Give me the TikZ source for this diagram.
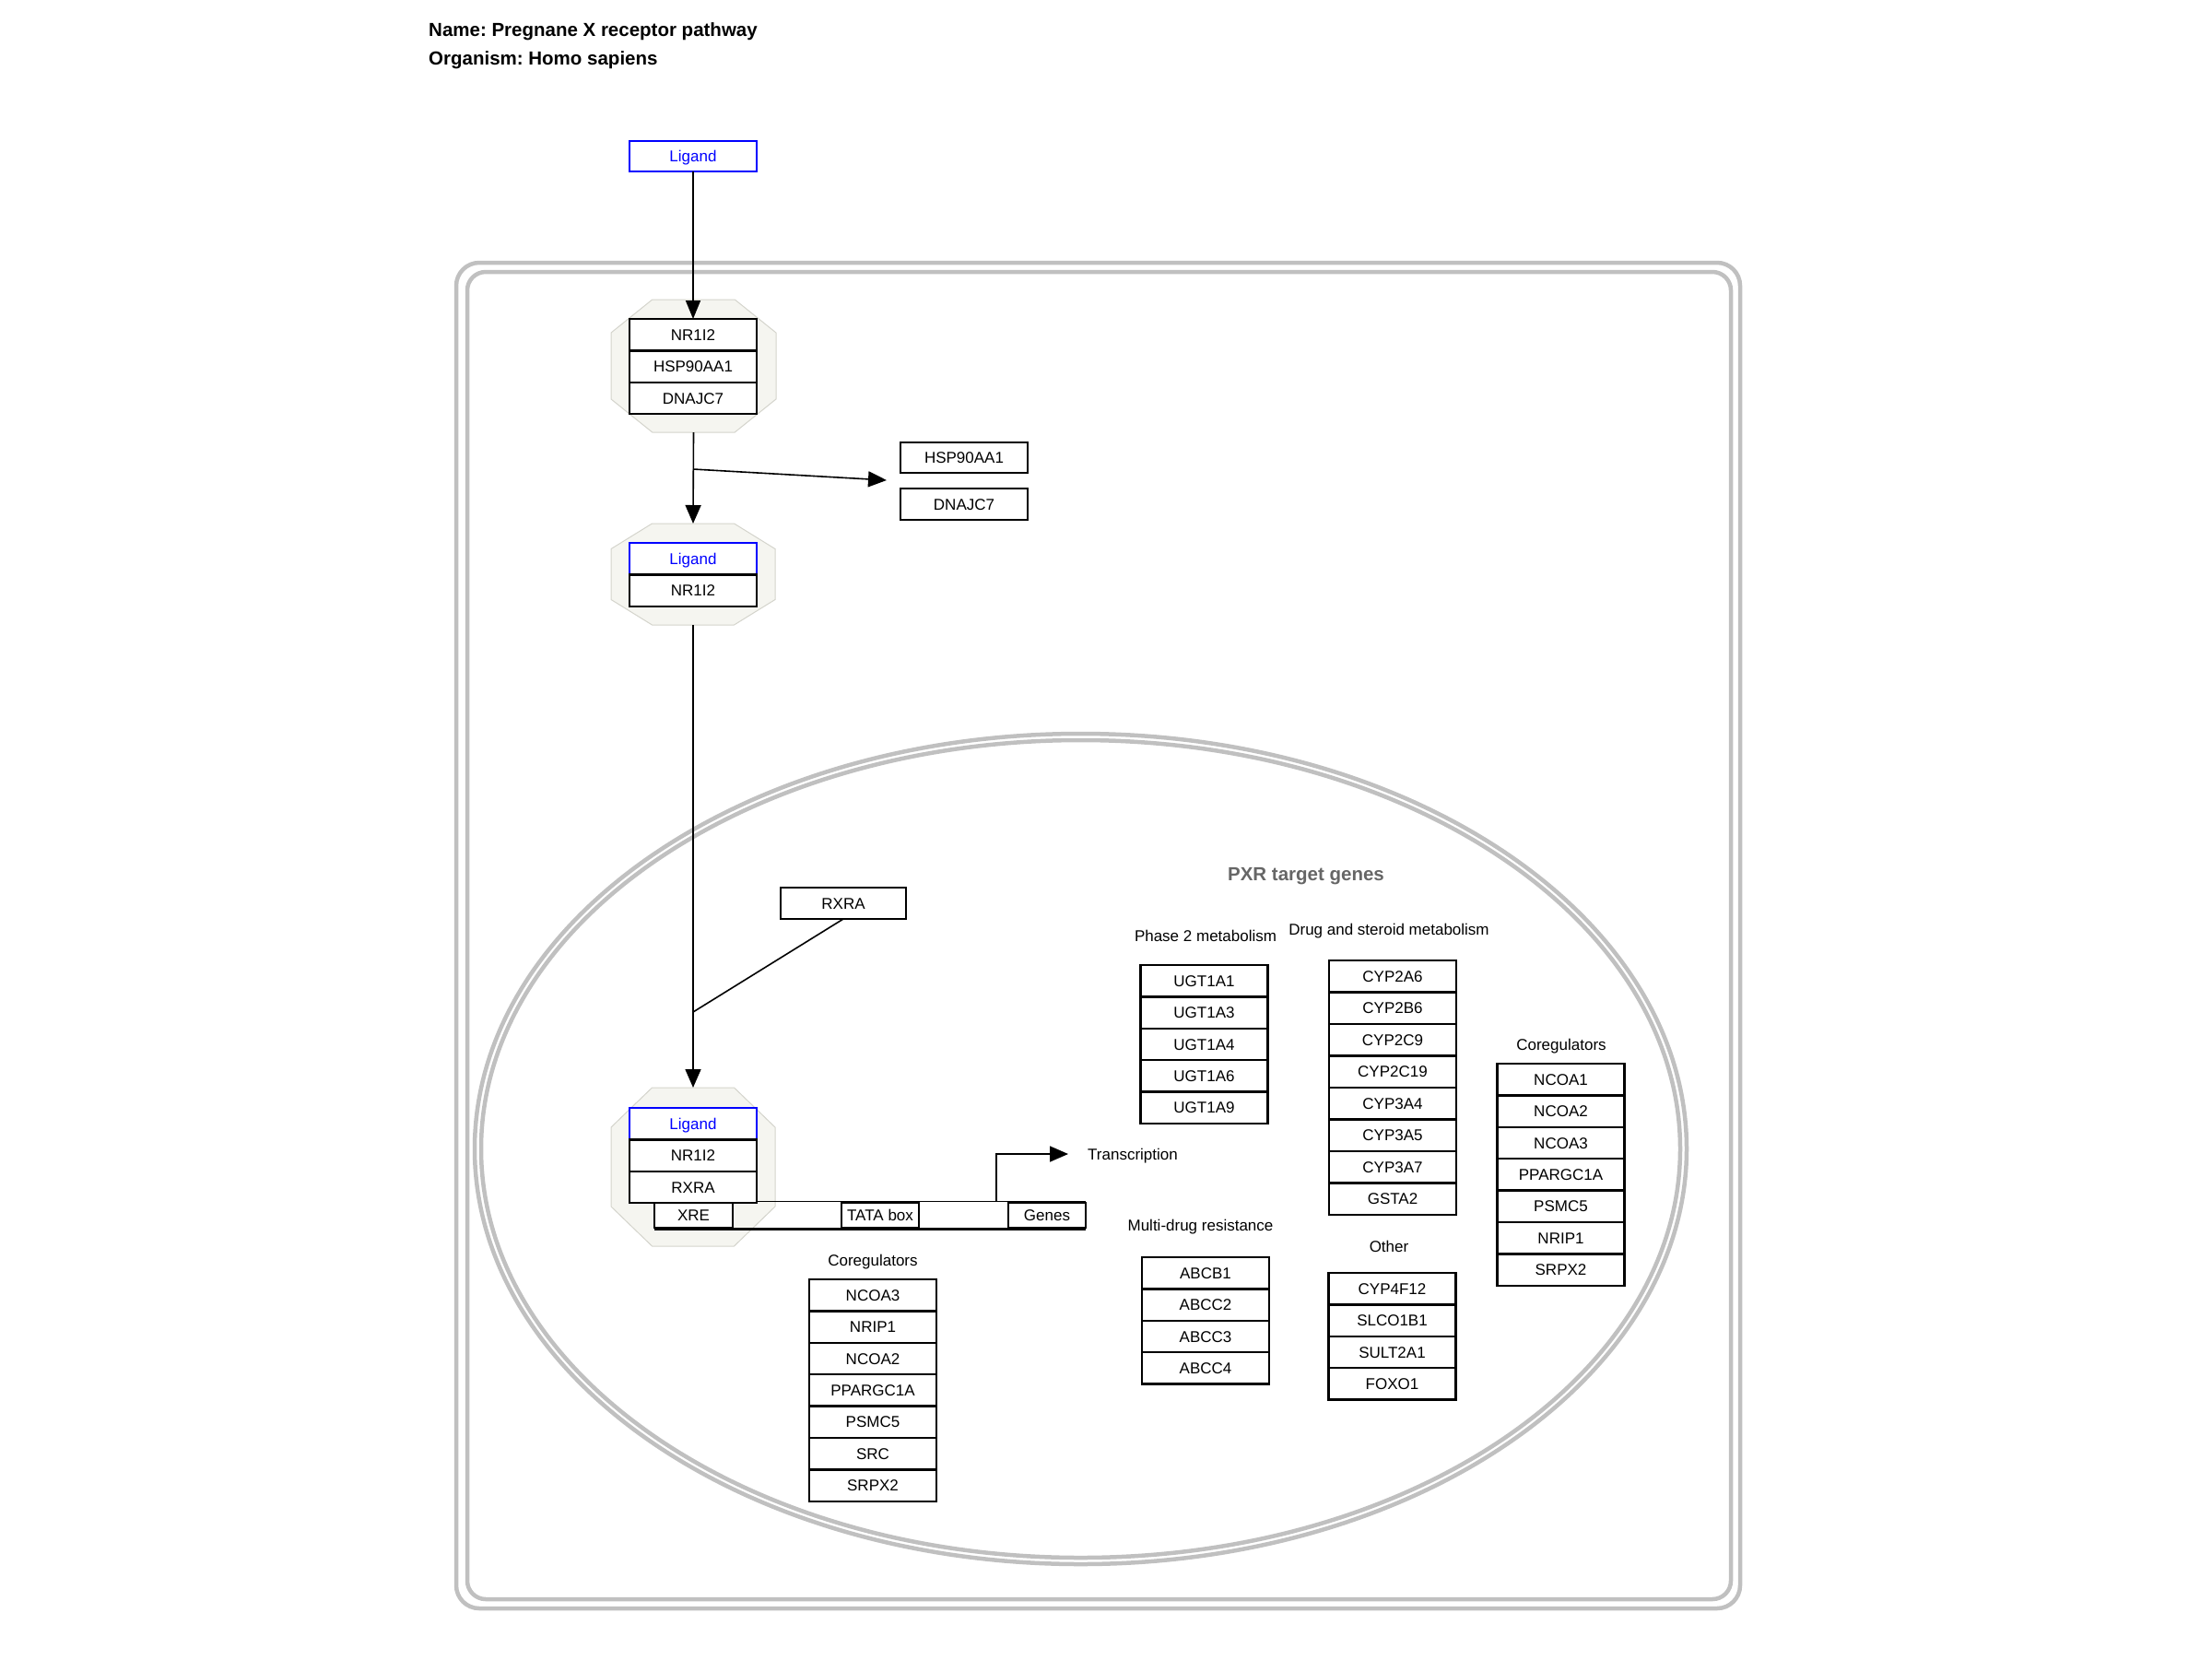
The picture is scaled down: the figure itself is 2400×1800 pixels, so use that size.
\documentclass[tikz,border=0pt]{standalone}
\usepackage{fontspec}
\setmainfont{Liberation Sans}
\usetikzlibrary{arrows.meta}
\definecolor{cmpgray}{HTML}{C0C0C0}
\definecolor{octfill}{HTML}{F5F5F0}
\definecolor{octline}{HTML}{D4D4CC}
\definecolor{hdrgray}{HTML}{666666}
\frenchspacing
\begin{document}
\begin{tikzpicture}[x=1pt,y=-1pt,
  gene/.style={draw=black, line width=2.5pt, fill=white, minimum width=138pt,
    minimum height=34.4pt, inner sep=0pt, outer sep=0pt, anchor=north,
    font=\fontsize{17}{20}\selectfont, text height=12.2pt, text depth=0pt},
  ligand/.style={gene, draw=blue, text=blue},
  single/.style={gene, line width=1.5pt},
  ligtop/.style={gene, draw=blue, text=blue, line width=2pt},
  dnabox/.style={draw=black, line width=1.5pt, fill=white, minimum height=27pt,
    inner sep=0pt, font=\fontsize{17}{20}\selectfont, text height=12.2pt, text depth=0pt},
  lbl/.style={font=\fontsize{17}{20}\selectfont, anchor=base, inner sep=0pt},
  arr/.style={line width=1.6pt, -{Triangle[length=20pt,width=17pt]}},
  conn/.style={line width=1.6pt},
  cmp/.style={draw=cmpgray, line width=4.5pt},
  oct/.style={fill=octfill, draw=octline, line width=1pt},
  octnode/.style={inner sep=0pt, outer sep=0pt}
]
\useasboundingbox (0,0) rectangle (2400,1800);

% title
\node[anchor=base west, inner sep=0pt, font=\bfseries\fontsize{20.5}{24}\selectfont] (title1) at (465,39) {Name: Pregnane X receptor pathway};
\node[anchor=base west, inner sep=0pt, font=\bfseries\fontsize{20.5}{24}\selectfont] (title2) at (465,70) {Organism: Homo sapiens};

% compartments
\draw[cmp, rounded corners=25pt] (495,285) rectangle (1888,1745);
\draw[cmp, rounded corners=20pt] (507,295) rectangle (1878,1735);
\draw[cmp] (1172.5,1246.5) ellipse [x radius=657.5pt, y radius=450.5pt];
\draw[cmp] (1172.5,1246.5) ellipse [x radius=650.5pt, y radius=443.5pt];

% octagons (complexes)
\path[oct] (707.75,325) -- (797.25,325) -- (842,361) -- (842,433) -- (797.25,469) -- (707.75,469) -- (663,433) -- (663,361) -- cycle;
\node[octnode, minimum width=179pt, minimum height=144pt] (oct1) at (752.5,397) {};
\path[oct] (707.5,568) -- (796.5,568) -- (841,595.5) -- (841,650.5) -- (796.5,678) -- (707.5,678) -- (663,650.5) -- (663,595.5) -- cycle;
\node[octnode, minimum width=178pt, minimum height=110pt] (oct2) at (752,623) {};
\path[oct] (707.5,1180) -- (796.5,1180) -- (841,1223) -- (841,1309) -- (796.5,1352) -- (707.5,1352) -- (663,1309) -- (663,1223) -- cycle;
\node[octnode, minimum width=178pt, minimum height=172pt] (oct3) at (752,1266) {};

% top ligand
\node[ligtop, minimum height=33pt] (lig0) at (752,153) {Ligand};

% complex 1
\node[gene] (c1a) at (752,346) {NR1I2};
\node[gene] (c1b) at (752,380.4) {HSP90AA1};
\node[gene] (c1c) at (752,414.8) {DNAJC7};

% complex 2
\node[ligand] (c2a) at (752,589) {Ligand};
\node[gene] (c2b) at (752,623.4) {NR1I2};

% released proteins
\node[single, minimum height=33pt] (hsp) at (1046,480) {HSP90AA1};
\node[single, minimum height=34pt] (dna) at (1046,530) {DNAJC7};

% RXRA
\node[single, minimum width=136pt, minimum height=34pt] (rxra) at (915,963) {RXRA};

% DNA bar
\coordinate (barL) at (710,1303);
\coordinate (barR) at (1178,1303);
\coordinate (barLb) at (710,1333);
\coordinate (barRb) at (1178,1333);
\draw[line width=1pt] (barL) -- (barR);
\draw[line width=3pt] (barLb) -- (barRb);

% complex 3
\node[ligand] (c3a) at (752,1202) {Ligand};
\node[gene] (c3b) at (752,1236.4) {NR1I2};
\node[gene] (c3c) at (752,1270.8) {RXRA};

\node[dnabox, minimum width=85pt] (xre) at (752.5,1318.5) {XRE};
\node[dnabox, minimum width=84pt] (tata) at (955,1318.5) {TATA box};
\node[dnabox, minimum width=84pt] (genes) at (1136,1318.5) {Genes};

% connectors
\draw[arr, -{Triangle[length=20pt,width=16pt]}] (lig0.south) -- (c1a.north);
\draw[arr] (oct1.south) -- (oct2.north);
\coordinate (br) at (752,509);
\coordinate (rel) at (962,521);
\draw[arr] (br) -- (rel);
\draw[arr] (oct2.south) -- (oct3.north);
\coordinate (join) at (752,1098);
\draw[conn] (rxra.south) -- (join);
\coordinate (tss) at (1081,1303);
\coordinate (tx) at (1159,1252);
\draw[arr] (tss) |- (tx);
\node[anchor=base west, inner sep=0pt, font=\fontsize{17}{20}\selectfont] (txlbl) at (1180,1258) {Transcription};

% nuclear coregulators (lower)
\node[lbl] (lcl) at (947,1373) {Coregulators};
\foreach \t [count=\i from 0] in {NCOA3,NRIP1,NCOA2,PPARGC1A,PSMC5,SRC,SRPX2}
  \node[gene] (lc\i) at (947,{1388+34.4*\i}) {\t};

% PXR target genes
\node[anchor=base, inner sep=0pt, text=hdrgray, font=\bfseries\fontsize{20.5}{24}\selectfont] (pxr) at (1417,955) {PXR target genes};

\node[lbl] (ph2) at (1308,1021) {Phase 2 metabolism};
\foreach \t [count=\i from 0] in {UGT1A1,UGT1A3,UGT1A4,UGT1A6,UGT1A9}
  \node[gene] (ugt\i) at (1306.5,{1047+34.4*\i}) {\t};

\node[lbl] (dsm) at (1507,1014) {Drug and steroid metabolism};
\foreach \t [count=\i from 0] in {CYP2A6,CYP2B6,CYP2C9,CYP2C19,CYP3A4,CYP3A5,CYP3A7,GSTA2}
  \node[gene] (cyp\i) at (1511,{1042+34.5*\i}) {\t};

\node[lbl] (rcl) at (1694,1139) {Coregulators};
\foreach \t [count=\i from 0] in {NCOA1,NCOA2,NCOA3,PPARGC1A,PSMC5,NRIP1,SRPX2}
  \node[gene] (rc\i) at (1693.5,{1154+34.4*\i}) {\t};

\node[lbl] (mdr) at (1302.5,1335) {Multi-drug resistance};
\foreach \t [count=\i from 0] in {ABCB1,ABCC2,ABCC3,ABCC4}
  \node[gene] (abc\i) at (1308,{1364+34.4*\i}) {\t};

\node[lbl] (oth) at (1507,1358) {Other};
\foreach \t [count=\i from 0] in {CYP4F12,SLCO1B1,SULT2A1,FOXO1}
  \node[gene] (oth\i) at (1510.5,{1381+34.4*\i}) {\t};

\end{tikzpicture}
\end{document}
